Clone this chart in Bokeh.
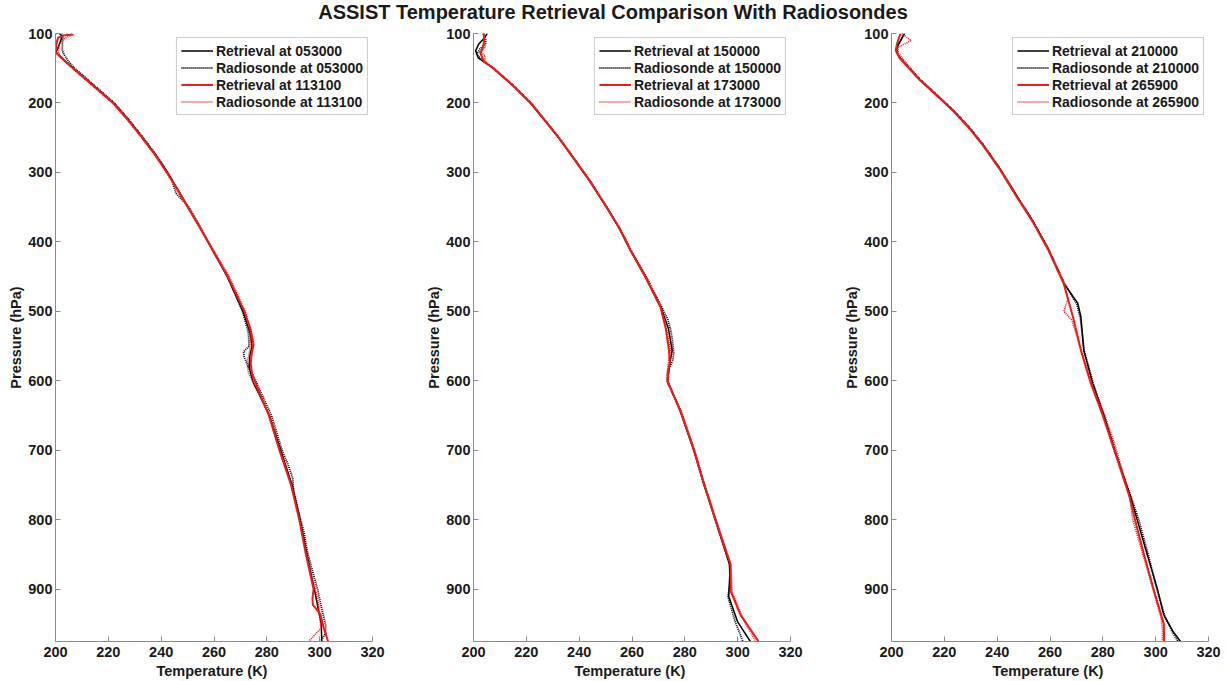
from bokeh.plotting import figure
from bokeh.layouts import row, column
from bokeh.models import Range1d, FixedTicker, Legend, LegendItem, Div
from bokeh.embed import file_html
from bokeh.resources import INLINE

FONT = "Liberation Sans"
BLACK = "#000000"
RED = "#ec1c1c"
AXIS_GRAY = "#8a8a8a"

TITLE = "ASSIST Temperature Retrieval Comparison With Radiosondes"
X_LABEL = "Temperature  (K)"
Y_LABEL = "Pressure (hPa)"
X_TICKS = [200, 220, 240, 260, 280, 300, 320]
Y_TICKS = [100, 200, 300, 400, 500, 600, 700, 800, 900]

# ---- panel 1: 053000 / 113100 ----
p1_labels = ["Retrieval at 053000", "Radiosonde at 053000",
             "Retrieval at 113100", "Radiosonde at 113100"]
p1_ret_a_P = [100, 104, 110, 120, 127, 140, 150, 175, 200, 225, 250, 275, 300, 325, 350, 375, 400, 450, 500, 530, 550, 565, 580, 600, 650, 700, 750, 800, 850, 900, 925, 950, 975]
p1_ret_a_T = [201.5, 202.5, 202, 201, 200.2, 203.8, 206.8, 214.4, 222, 227.8, 233, 238, 242.4, 246.4, 250.2, 254.1, 257.7, 265, 271, 273.6, 274.4, 273.5, 273.3, 274.6, 281, 285.3, 289.6, 292.6, 295.2, 298, 299.3, 300.6, 300.8]
p1_sonde_a_P = [100, 105, 115, 125, 132, 140, 150, 175, 200, 225, 250, 275, 300, 310, 320, 330, 350, 375, 400, 450, 500, 530, 550, 558, 565, 580, 595, 620, 650, 700, 720, 740, 760, 800, 820, 835, 850, 900, 925, 950, 963, 975]
p1_sonde_a_T = [202.6, 202.8, 202.6, 202.6, 203.5, 204.9, 207.3, 214.8, 222.3, 228, 233.2, 238.2, 242.5, 244, 244.8, 245.6, 250.5, 254.3, 257.9, 265.2, 270.8, 273, 273.3, 271.2, 271.4, 273, 275.2, 278.2, 281.8, 285.8, 288, 289.8, 290.2, 292.8, 294.2, 294.8, 295.6, 299.2, 300.6, 302.2, 302.3, 300.3]
p1_ret_b_P = [100, 101.5, 103, 106, 112, 120, 127, 140, 150, 175, 200, 225, 250, 275, 300, 325, 350, 375, 400, 450, 500, 525, 548, 560, 575, 590, 610, 650, 700, 750, 800, 850, 900, 912, 922, 936, 955, 975]
p1_ret_b_T = [205.7, 206.5, 203, 201, 200.5, 200.2, 200, 203.6, 206.6, 214.2, 221.8, 227.6, 232.8, 237.8, 242.2, 246.2, 250.1, 254, 257.8, 265.3, 271.5, 273.8, 275, 274.3, 273.9, 274.4, 276.5, 280.8, 284.8, 289.2, 292.3, 294.8, 297.7, 297.3, 297.4, 300.3, 301.5, 303.2]
p1_sonde_b_P = [100, 103, 108, 115, 125, 135, 150, 175, 200, 225, 250, 275, 300, 325, 350, 375, 400, 450, 500, 530, 555, 572, 588, 600, 650, 700, 750, 800, 850, 900, 915, 935, 956, 975]
p1_sonde_b_T = [204.2, 205.5, 203, 201.5, 200.8, 202.2, 206.4, 214, 221.6, 227.4, 232.6, 237.6, 242, 246, 249.9, 253.9, 257.9, 265.8, 271.8, 273.8, 273.6, 272.6, 273, 274.6, 281, 285, 289.3, 292.4, 295, 298.3, 299.2, 300, 300.5, 295.8]

# ---- panel 2: 150000 / 173000 ----
p2_labels = ["Retrieval at 150000", "Radiosonde at 150000",
             "Retrieval at 173000", "Radiosonde at 173000"]
p2_ret_a_P = [100, 106, 115, 125, 135, 150, 175, 200, 225, 250, 280, 311, 350, 380, 412, 450, 494, 525, 556, 575, 600, 643, 700, 744, 800, 864, 880, 910, 946, 975]
p2_ret_a_T = [205.2, 204.2, 202, 200.8, 201.8, 207.4, 214.9, 221.5, 226.9, 232.2, 237.9, 243.7, 250.3, 255.1, 259.4, 265, 271, 273.8, 275.2, 274.3, 273.5, 278.2, 283.4, 286.8, 291.5, 296.9, 297, 296.6, 299.9, 304.8]
p2_sonde_a_P = [100, 108, 114, 122, 130, 140, 150, 175, 200, 225, 250, 280, 311, 350, 380, 412, 450, 494, 510, 527, 545, 560, 571, 585, 600, 643, 700, 744, 800, 864, 890, 910, 946, 975]
p2_sonde_a_T = [203.6, 204.5, 204.6, 202.5, 201.2, 203.8, 207.6, 215.1, 221.8, 227.1, 232.4, 238.1, 243.9, 250.5, 255.3, 259.7, 265.4, 271.3, 273.4, 274.7, 275.4, 275.8, 275.4, 273.6, 273.3, 278.4, 283.6, 287, 291.7, 297, 297.2, 296.3, 299, 302]
p2_ret_b_P = [100, 110, 120, 128, 140, 150, 175, 200, 225, 250, 280, 311, 350, 380, 412, 450, 494, 525, 556, 572, 585, 600, 643, 700, 744, 800, 864, 903, 936, 975]
p2_ret_b_T = [203.9, 204, 203.6, 202.6, 203.9, 207.5, 215, 221.6, 227, 232.3, 238, 243.8, 250.4, 255.2, 259.4, 265, 270.8, 272.8, 274, 274.3, 273.8, 273.4, 278.3, 283.5, 286.9, 291.6, 297.3, 297.4, 301, 307.9]
p2_sonde_b_P = [100, 112, 120, 126, 132, 140, 150, 175, 200, 225, 250, 280, 311, 350, 380, 412, 450, 494, 525, 556, 575, 590, 605, 643, 700, 744, 800, 864, 905, 940, 975]
p2_sonde_b_T = [204, 204.6, 204.3, 202.4, 204.4, 204.2, 207.8, 215.2, 221.9, 227.2, 232.5, 238.2, 244, 250.5, 255.4, 259.6, 265.2, 271, 273, 274.5, 273.7, 273.3, 273.6, 278.6, 283.7, 287.1, 291.8, 297.4, 298, 301.8, 306.8]

# ---- panel 3: 210000 / 265900 ----
p3_labels = ["Retrieval at 210000", "Radiosonde at 210000",
             "Retrieval at 265900", "Radiosonde at 265900"]
p3_ret_a_P = [100, 110, 121, 127, 135, 166, 190, 211, 235, 260, 295, 332, 370, 412, 460, 488, 508, 556, 604, 650, 700, 768, 800, 850, 900, 936, 960, 975]
p3_ret_a_T = [205, 203.5, 201.9, 201.9, 203.2, 210.6, 217.5, 223.4, 229.3, 234.6, 241.1, 247.1, 253.5, 259.6, 265.3, 270.5, 271.7, 272.8, 276.2, 280.5, 284.6, 290.6, 293, 296.8, 300.7, 303, 306.5, 309.4]
p3_sonde_a_P = [100, 108, 118, 127, 138, 166, 190, 211, 235, 260, 295, 332, 370, 412, 460, 490, 510, 556, 604, 650, 700, 768, 800, 850, 900, 940, 965, 975]
p3_sonde_a_T = [204.4, 203.8, 202.3, 202, 203.8, 210.8, 217.7, 223.6, 229.5, 234.8, 241.2, 247.2, 253.6, 259.7, 265.5, 270.2, 271.5, 272.9, 276.4, 280.4, 284.3, 290.8, 293.6, 297.2, 300.5, 303.6, 306.8, 308.5]
p3_ret_b_P = [100, 112, 124, 135, 166, 190, 211, 235, 260, 295, 332, 370, 412, 460, 508, 556, 604, 650, 700, 768, 800, 850, 900, 950, 975]
p3_ret_b_T = [203.4, 202.3, 201.6, 203, 210.4, 217.3, 223.2, 229.1, 234.4, 240.9, 246.9, 253.3, 259.4, 265.2, 268.7, 271.7, 275.5, 280, 284.4, 290.2, 292.2, 295.6, 299.2, 303.1, 303.2]
p3_sonde_b_P = [100, 105, 110, 115, 120, 128, 166, 190, 211, 235, 260, 295, 332, 370, 412, 460, 482, 500, 512, 556, 604, 650, 700, 768, 800, 850, 900, 940, 960, 975]
p3_sonde_b_T = [203.8, 205.6, 207.4, 205, 202.6, 202.5, 210.7, 217.6, 223.5, 229.4, 234.7, 241.1, 247.2, 253.5, 259.6, 265.4, 266.8, 265.2, 268.2, 271.9, 275.8, 280.8, 285.2, 290.2, 291.3, 295.2, 299, 302, 302.6, 302.5]


def make_panel(width, border_right, profiles, labels):
    p = figure(width=width, height=656, output_backend="svg", toolbar_location=None,
               x_range=Range1d(200, 320), y_range=Range1d(975, 100),
               min_border_left=55, min_border_right=border_right,
               min_border_top=8, min_border_bottom=40)
    p.outline_line_color = None
    p.grid.visible = False
    p.background_fill_color = "white"
    p.border_fill_color = "white"

    styles = [
        dict(line_color=BLACK, line_width=1.5),
        dict(line_color=BLACK, line_width=1.8, line_dash="1 1"),
        dict(line_color=RED, line_width=2.0),
        dict(line_color=RED, line_width=1.6, line_dash="1 1"),
    ]
    items = []
    for (temps, pres), style, label in zip(profiles, styles, labels):
        r = p.line(temps, pres, line_join="round", **style)
        items.append(LegendItem(label=label, renderers=[r]))

    legend = Legend(items=items, location="top_right")
    legend.margin = 4
    legend.padding = 4
    legend.spacing = 0
    legend.label_height = 17
    legend.glyph_height = 17
    legend.glyph_width = 32
    legend.label_standoff = 3
    legend.label_text_font = FONT
    legend.label_text_font_style = "bold"
    legend.label_text_font_size = "14px"
    legend.label_text_color = "#1a1a1a"
    legend.border_line_color = "#9a9a9a"
    legend.border_line_width = 1
    legend.background_fill_color = "white"
    legend.background_fill_alpha = 1.0
    p.add_layout(legend)

    p.xaxis.ticker = FixedTicker(ticks=X_TICKS)
    p.yaxis.ticker = FixedTicker(ticks=Y_TICKS)
    p.xaxis.axis_label = X_LABEL
    p.yaxis.axis_label = Y_LABEL
    for ax in (p.xaxis, p.yaxis):
        ax.axis_line_color = AXIS_GRAY
        ax.major_tick_line_color = AXIS_GRAY
        ax.major_tick_in = 5
        ax.major_tick_out = 0
        ax.minor_tick_line_color = None
        ax.major_label_text_font = FONT
        ax.major_label_text_font_style = "bold"
        ax.major_label_text_font_size = "14.5px"
        ax.major_label_text_color = "#1a1a1a"
        ax.axis_label_text_font = FONT
        ax.axis_label_text_font_style = "bold"
        ax.axis_label_text_font_size = "14.5px"
        ax.axis_label_text_color = "#1a1a1a"
    p.xaxis.major_label_standoff = 5
    p.xaxis.axis_label_standoff = 3
    p.yaxis.major_label_standoff = 3
    p.yaxis.axis_label_standoff = 1
    return p


fig1 = make_panel(418, 46, [(p1_ret_a_T, p1_ret_a_P), (p1_sonde_a_T, p1_sonde_a_P),
                            (p1_ret_b_T, p1_ret_b_P), (p1_sonde_b_T, p1_sonde_b_P)], p1_labels)
fig2 = make_panel(418, 46, [(p2_ret_a_T, p2_ret_a_P), (p2_sonde_a_T, p2_sonde_a_P),
                            (p2_ret_b_T, p2_ret_b_P), (p2_sonde_b_T, p2_sonde_b_P)], p2_labels)
fig3 = make_panel(390, 18, [(p3_ret_a_T, p3_ret_a_P), (p3_sonde_a_T, p3_sonde_a_P),
                            (p3_ret_b_T, p3_ret_b_P), (p3_sonde_b_T, p3_sonde_b_P)], p3_labels)

heading = Div(
    text=(f'<div style="width:1192px;padding-left:34px;text-align:center;'
          f'font-family:\'{FONT}\';font-weight:bold;font-size:20px;'
          f'line-height:25px;color:#1a1a1a;white-space:nowrap;">{TITLE}</div>'),
    width=1226, height=25, margin=(0, 0, 0, 0))

layout = column(heading, row(fig1, fig2, fig3), spacing=0)
open("out.html", "w").write(file_html(layout, INLINE))
